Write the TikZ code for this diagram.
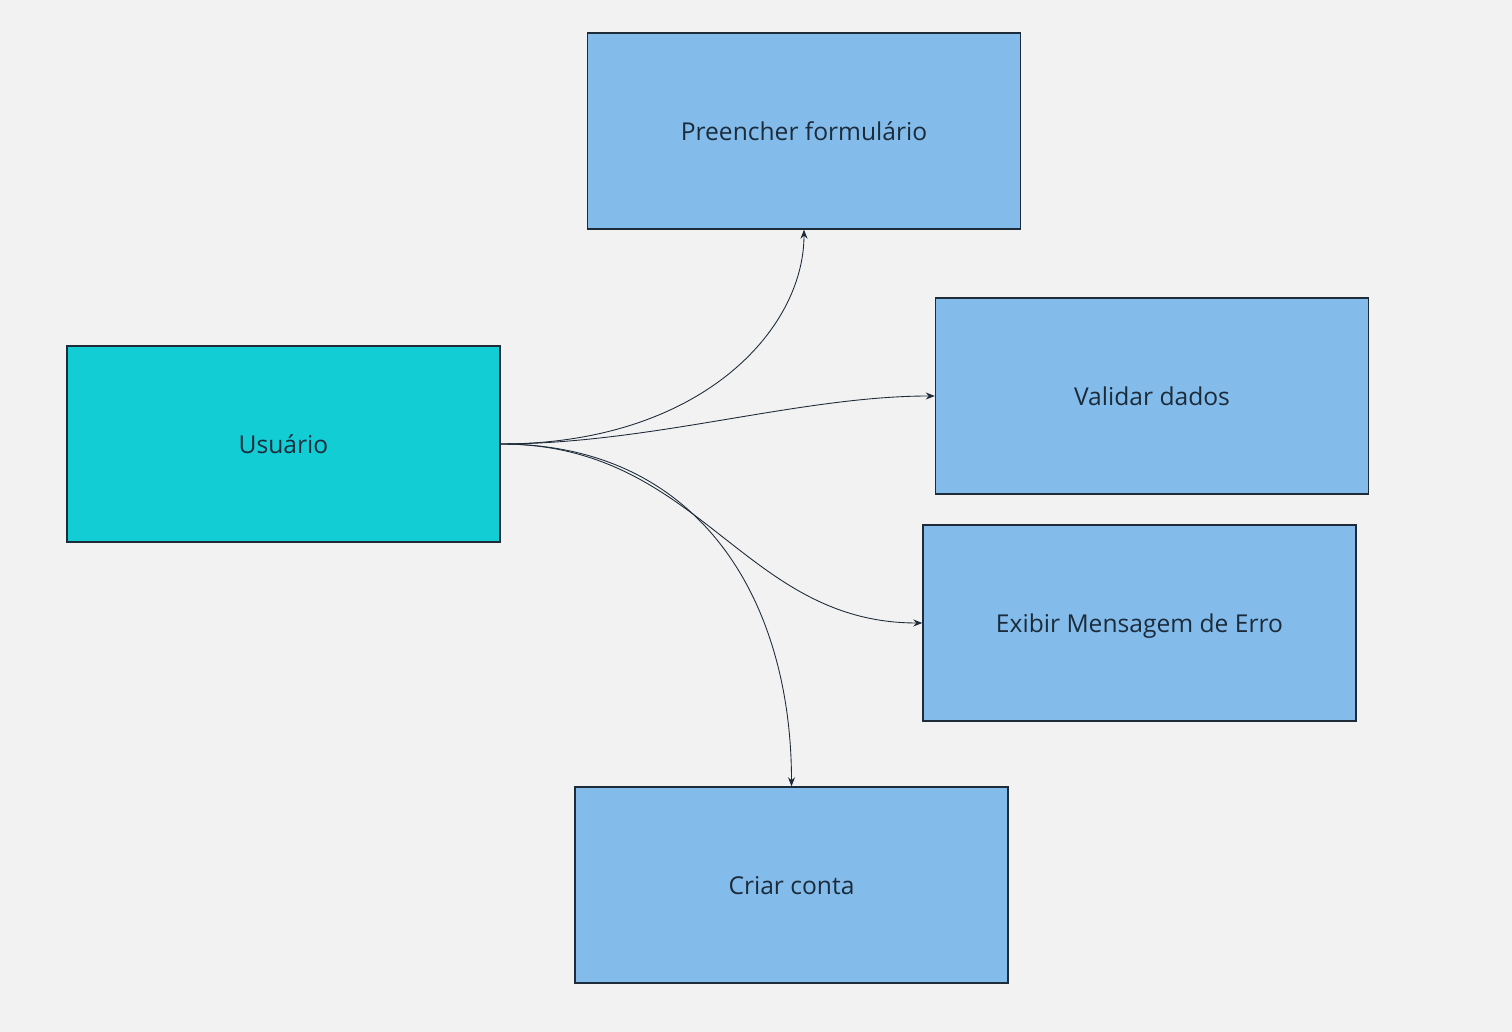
\documentclass[tikz,border=0pt]{standalone}
\usepackage{fontspec}
\setmainfont{Open Sans}
\usepackage{tikz}
\usetikzlibrary{arrows.meta}
\usepackage{xcolor}

\definecolor{fundo}{HTML}{F2F2F2}
\definecolor{azul}{HTML}{83BCEB}
\definecolor{ciano}{HTML}{12CDD4}
\definecolor{borda}{HTML}{1E2B38}
\definecolor{texto}{HTML}{1C2B3A}

\begin{document}
\begin{tikzpicture}[
    every node/.style={font=\fontsize{14}{16}\selectfont, text=texto},
    tarefa/.style={
        rectangle,
        draw=borda,
        line width=0.8pt,
        align=center,
        text depth=0pt,
        minimum width=8.66cm,
        minimum height=3.92cm,
        fill=azul
    },
    ator/.style={
        tarefa,
        fill=ciano
    },
    arrow/.style={
        -{Stealth[length=1.8mm, width=1.4mm]},
        line width=0.5pt,
        draw=borda
    }
]

% Fundo
\fill[fundo] (0,0) rectangle (30.24,20.64);
\useasboundingbox (0,0) rectangle (30.24,20.64);

% Nodos principais
\node[ator] (usuario) at (5.67,11.76) {Usuário};

\node[tarefa] (preencher) at (16.08,18.02) {Preencher formulário};

\node[tarefa] (validar) at (23.04,12.72) {Validar dados};

\node[tarefa] (erro) at (22.79,8.18) {Exibir Mensagem de Erro};

\node[tarefa] (criar) at (15.83,2.94) {Criar conta};

% Flechas
\draw[arrow] (usuario.east) .. controls +(4,0) and +(0,-2) .. (preencher.south);
\draw[arrow] (usuario.east) .. controls +(3,0) and +(-2.7,0) .. (validar.west);
\draw[arrow] (usuario.east) .. controls +(4,0) and +(-3.6,0) .. (erro.west);
\draw[arrow] (usuario.east) .. controls +(4,0) and +(0,3.7) .. (criar.north);

\end{tikzpicture}
\end{document}
